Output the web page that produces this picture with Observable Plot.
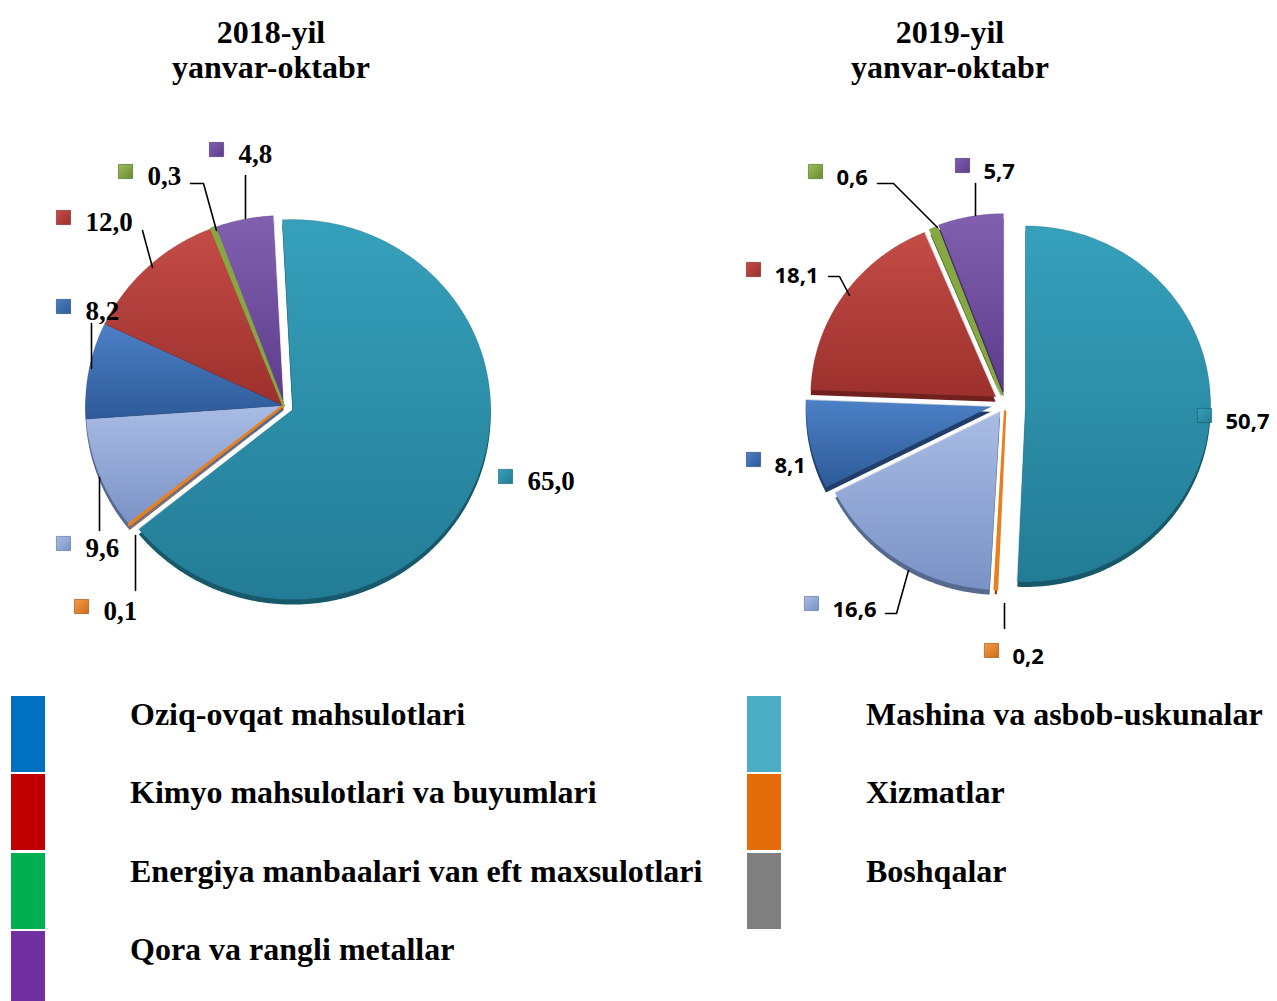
<!DOCTYPE html>
<html>
<head>
<meta charset="utf-8">
<script src="https://cdn.jsdelivr.net/npm/d3@7"></script>
<script src="https://cdn.jsdelivr.net/npm/@observablehq/plot@0.6"></script>
<style>
  html, body { margin: 0; padding: 0; background: #fff; }
  body { width: 1277px; height: 1001px; overflow: hidden; position: relative; font-family: "Liberation Serif", "Times New Roman", serif; }
  .title { position: absolute; top: 0; width: 420px; box-sizing: border-box; padding-top: 15px;
           text-align: center; font-weight: bold; font-size: 32px; line-height: 35px; color: #000; }
  .pie { position: absolute; top: 85px; }
  .lg-rect { position: absolute; width: 34px; height: 76px; }
  .lg-text { position: absolute; font-weight: bold; font-size: 32px; line-height: 36px; color: #000; white-space: nowrap; }
</style>
</head>
<body>
<div class="title" style="left:61px">2018-yil<br>yanvar-oktabr</div>
<div class="title" style="left:740px">2019-yil<br>yanvar-oktabr</div>
<div id="pie2018" class="pie" style="left:0px"></div>
<div id="pie2019" class="pie" style="left:640px"></div>
<div id="legend"></div>
<script>
// ---------------- DATA ----------------
const sliceKeys = ["mashina", "xizmat", "boshqa", "oziq", "kimyo", "energiya", "metall"];
const values2018 = [65.0, 0.1, 9.6, 8.2, 12.0, 0.3, 4.8];
const values2019 = [50.7, 0.2, 16.6, 8.1, 18.1, 0.6, 5.7];
const legendLabels = [
  "Oziq-ovqat mahsulotlari",
  "Kimyo mahsulotlari va buyumlari",
  "Energiya manbaalari van eft maxsulotlari",
  "Qora va rangli metallar",
  "Mashina va asbob-uskunalar",
  "Xizmatlar",
  "Boshqalar"
];
const legendColors = ["#0070C0", "#C00000", "#00B050", "#7030A0", "#4BACC6", "#E36C09", "#808080"];

// ---------------- STYLE / LAYOUT ----------------
const gradStops = {
  mashina:  ["#36A0BB", "#237C95"],
  xizmat:   ["#F59C48", "#D06A18"],
  boshqa:   ["#A9BCE4", "#7A92C6"],
  oziq:     ["#4C80C6", "#2E5A98"],
  kimyo:    ["#C44C47", "#9C302C"],
  energiya: ["#9DBD5C", "#6B8C2C"],
  metall:   ["#8160B0", "#5C3C8A"]
};
const solidColor = { xizmat: "#E8801F", energiya: "#86A843" };
const rimColor = {
  mashina: "#17596A", xizmat: "#94480E", boshqa: "#56698F", oziq: "#203E69",
  kimyo: "#72201E", energiya: "#4A6320", metall: "#3F2862"
};

const pies = [
  { id: "pie2018", values: values2018, width: 640, height: 600, cx: 283, cy: 320, rx: 198, ry: 190, rot: -3,
    explode: [10, 0, 0, 0, 0, 0, 0],
    labelPos: [[222, 71], [-202, 201], [-220, 138], [-220, -99], [-220, -188], [-158, -234], [-67, -256]],
    textOffset: [22, 5],
    leaders: [null, [[-148, 130], [-148, 185]], [[-184, 72], [-184, 125]], [[-192, -82], [-192, -37]],
              [[-141, -175], [-131, -138]], [[-93, -222], [-80, -222], [-67, -175]], [[-38, -230], [-38, -187]]],
    font: "'Liberation Serif', 'Times New Roman', serif", fontSize: 27 },
  { id: "pie2019", values: values2019, width: 637, height: 600, cx: 365, cy: 318, rx: 185, ry: 178, rot: 0,
    explode: [20, 8, 10, 15, 12, 10, 12],
    labelPos: [[199, 12], [-14, 247], [-194, 200], [-252, 56], [-252, -134], [-190, -232], [-43, -238]],
    textOffset: [21, 6],
    leaders: [null, [[-1, 200], [-1, 225]], [[-120, 210], [-109, 210], [-97, 167]], null,
              [[-177, -127], [-166, -127], [-156, -108]], [[-128, -220], [-112, -220], [-68, -176]], [[-30, -220], [-30, -188]]],
    font: "'Open Sans', 'Liberation Sans', sans-serif", fontSize: 22 }
];

const fmt = v => d3.format(".1f")(v).replace(".", ",");

function buildPie(cfg) {
  const deg = Math.PI / 180;
  const arcs = d3.pie().sort(null).startAngle(cfg.rot * deg).endAngle(cfg.rot * deg + 2 * Math.PI)(cfg.values);
  const pts = [];
  arcs.forEach((a, i) => {
    const key = sliceKeys[i];
    const mid = (a.startAngle + a.endAngle) / 2;
    const e = cfg.explode[i];
    const ox = e * Math.sin(mid), oy = -e * Math.cos(mid);
    const n = Math.max(2, Math.ceil((a.endAngle - a.startAngle) / (0.5 * deg)));
    pts.push({ key, x: ox, y: oy });
    for (let k = 0; k <= n; k++) {
      const t = a.startAngle + (a.endAngle - a.startAngle) * k / n;
      pts.push({ key, x: ox + cfg.rx * Math.sin(t), y: oy - cfg.ry * Math.cos(t) });
    }
  });
  const thinPts = pts.filter(d => solidColor[d.key]);
  const labels = cfg.values.map((v, i) => ({
    key: sliceKeys[i], text: fmt(v),
    mx: cfg.labelPos[i][0], my: cfg.labelPos[i][1],
    tx: cfg.labelPos[i][0] + cfg.textOffset[0], ty: cfg.labelPos[i][1] + cfg.textOffset[1]
  }));
  const leaderPts = [];
  cfg.leaders.forEach((l, i) => { if (l) l.forEach(p => leaderPts.push({ key: sliceKeys[i], x: p[0], y: p[1] })); });

  const pre = cfg.id + "-";
  const svg = Plot.plot({
    width: cfg.width, height: cfg.height,
    margin: 0,
    x: { domain: [-cfg.cx, cfg.width - cfg.cx], range: [0, cfg.width], axis: null },
    y: { domain: [-cfg.cy, cfg.height - cfg.cy], range: [0, cfg.height], axis: null },
    color: { type: "identity" },
    style: { background: "transparent", overflow: "visible" },
    marks: [
      // 3D rim
      Plot.line(pts, { x: "x", y: "y", z: "key", fill: d => rimColor[d.key], stroke: "none", curve: "linear-closed", dy: 5 }),
      // top face
      Plot.line(pts, { x: "x", y: "y", z: "key", fill: d => `url(#${pre}${d.key})`, stroke: d => rimColor[d.key], strokeWidth: 0.4, strokeOpacity: 0.6, curve: "linear-closed" }),
      // very thin slices remain visible as coloured stripes
      Plot.line(thinPts, { x: "x", y: "y", z: "key", fill: d => solidColor[d.key], stroke: d => solidColor[d.key], strokeWidth: 2.5, strokeLinejoin: "round", curve: "linear-closed" }),
      Plot.line(leaderPts, { x: "x", y: "y", z: "key", stroke: "#000", strokeWidth: 1.6 }),
      Plot.dot(labels, { x: "mx", y: "my", symbol: "square", r: 8, fill: d => `url(#${pre}m-${d.key})`, stroke: d => rimColor[d.key], strokeWidth: 0.6 }),
      Plot.text(labels, { x: "tx", y: "ty", text: "text", textAnchor: "start", fontWeight: "bold", fontSize: cfg.fontSize, fontFamily: cfg.font, fill: "#000" })
    ]
  });
  // gradient definitions
  const ns = "http://www.w3.org/2000/svg";
  const defs = document.createElementNS(ns, "defs");
  sliceKeys.forEach(k => {
    [["", 0, 0, 0, 1], ["m-", 0, 0, 1, 1]].forEach(([p, x1, y1, x2, y2]) => {
      const g = document.createElementNS(ns, "linearGradient");
      g.setAttribute("id", pre + p + k);
      g.setAttribute("x1", x1); g.setAttribute("y1", y1); g.setAttribute("x2", x2); g.setAttribute("y2", y2);
      const s1 = document.createElementNS(ns, "stop"); s1.setAttribute("offset", "0"); s1.setAttribute("stop-color", gradStops[k][0]);
      const s2 = document.createElementNS(ns, "stop"); s2.setAttribute("offset", "1"); s2.setAttribute("stop-color", gradStops[k][1]);
      g.appendChild(s1); g.appendChild(s2); defs.appendChild(g);
    });
  });
  svg.insertBefore(defs, svg.firstChild);
  document.getElementById(cfg.id).appendChild(svg);
}
pies.forEach(buildPie);

// ---------------- LEGEND ----------------
const legend = document.getElementById("legend");
legendLabels.forEach((lab, i) => {
  const col = i < 4 ? 0 : 1;
  const row = i < 4 ? i : i - 4;
  const top = 696 + row * 78.3;
  const r = document.createElement("div");
  r.className = "lg-rect";
  r.style.left = (col === 0 ? 11 : 747) + "px";
  r.style.top = top + "px";
  r.style.background = legendColors[i];
  legend.appendChild(r);
  const t = document.createElement("div");
  t.className = "lg-text";
  t.style.left = (col === 0 ? 130 : 866) + "px";
  t.style.top = top + "px";
  t.textContent = lab;
  legend.appendChild(t);
});
</script>
</body>
</html>
